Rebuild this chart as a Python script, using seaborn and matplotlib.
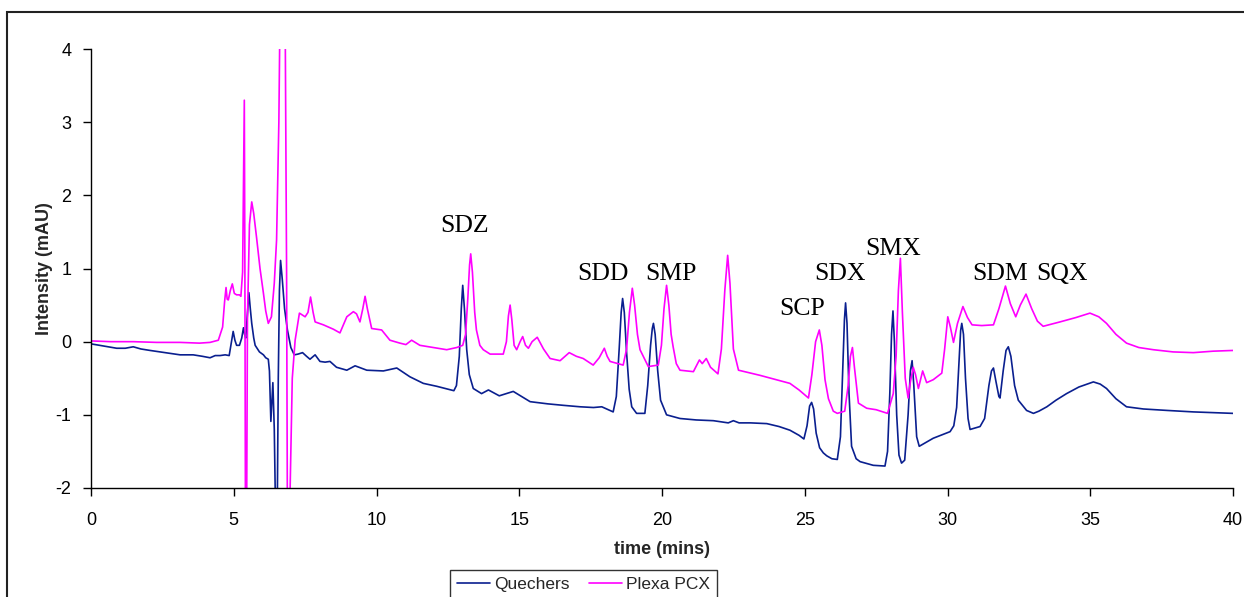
import numpy as np
import pandas as pd
import matplotlib
matplotlib.use("Agg")
import matplotlib.pyplot as plt
from matplotlib.patches import Rectangle
from matplotlib.lines import Line2D
import seaborn as sns

# ---------------- data ----------------
quechers_t = [0.00, 0.45, 0.90, 1.20, 1.48, 1.75, 2.07, 2.60, 3.12, 3.58, 3.90, 4.17, 4.35, 4.52, 4.70,
              4.84, 4.92, 4.98, 5.04, 5.10, 5.20, 5.28, 5.34, 5.38, 5.42, 5.48, 5.53, 5.58, 5.63, 5.70,
              5.75, 5.90, 6.04, 6.12, 6.21, 6.25, 6.30, 6.37, 6.42, 6.47, 6.52, 6.56, 6.60, 6.64, 6.70,
              6.78, 6.88, 7.00, 7.12, 7.25, 7.41, 7.55, 7.67, 7.85, 8.02, 8.20, 8.37, 8.60, 8.96, 9.25,
              9.66, 10.24, 10.71, 11.17, 11.64, 12.11, 12.71, 12.80, 12.90, 12.97, 13.02, 13.08, 13.16,
              13.25, 13.39, 13.68, 13.92, 14.30, 14.79, 15.38, 16.00, 16.54, 17.13, 17.60, 17.89, 18.29,
              18.40, 18.50, 18.57, 18.62, 18.68, 18.76, 18.85, 18.94, 19.11, 19.40, 19.50, 19.60, 19.66,
              19.70, 19.76, 19.85, 19.95, 20.16, 20.63, 21.20, 21.80, 22.32, 22.50, 22.70, 23.10, 23.67,
              24.10, 24.48, 24.80, 24.97, 25.08, 25.17, 25.24, 25.31, 25.40, 25.52, 25.65, 25.77, 25.95,
              26.14, 26.25, 26.33, 26.39, 26.43, 26.48, 26.55, 26.64, 26.80, 26.94, 27.40, 27.81, 27.90,
              27.98, 28.04, 28.09, 28.14, 28.22, 28.30, 28.39, 28.50, 28.62, 28.70, 28.76, 28.82, 28.92,
              29.01, 29.10, 29.50, 30.09, 30.22, 30.32, 30.40, 30.46, 30.50, 30.56, 30.63, 30.72, 30.79,
              31.14, 31.30, 31.45, 31.54, 31.61, 31.70, 31.80, 31.84, 31.95, 32.05, 32.13, 32.22, 32.35,
              32.48, 32.77, 33.01, 33.20, 33.48, 33.80, 34.17, 34.60, 35.11, 35.35, 35.57, 35.90, 36.27,
              36.86, 37.70, 38.61, 39.30, 40.00]
quechers_i = [-0.03, -0.06, -0.09, -0.09, -0.07, -0.10, -0.12, -0.15, -0.18, -0.18, -0.20, -0.22, -0.19, -0.19, -0.18,
              -0.19, 0.00, 0.14, 0.02, -0.05, -0.05, 0.05, 0.19, 0.10, 0.05, 0.40, 0.67, 0.45, 0.25, 0.05,
              -0.05, -0.14, -0.18, -0.22, -0.24, -0.40, -1.09, -0.56, -1.20, -2.50, -2.50, -0.50, 0.70, 1.11, 0.85,
              0.45, 0.16, -0.08, -0.18, -0.17, -0.15, -0.20, -0.24, -0.18, -0.27, -0.28, -0.27, -0.35, -0.39, -0.33,
              -0.39, -0.40, -0.36, -0.48, -0.57, -0.61, -0.67, -0.60, -0.20, 0.45, 0.77, 0.45, -0.11,
              -0.45, -0.64, -0.71, -0.66, -0.74, -0.68, -0.82, -0.85, -0.87, -0.89, -0.90, -0.89, -0.96,
              -0.75, -0.10, 0.40, 0.59, 0.40, -0.15, -0.65, -0.89, -0.98, -0.98, -0.60, -0.05, 0.18,
              0.25, 0.10, -0.40, -0.80, -1.00, -1.05, -1.07, -1.08, -1.11, -1.08, -1.11, -1.11, -1.12,
              -1.16, -1.21, -1.28, -1.33, -1.15, -0.88, -0.83, -0.92, -1.25, -1.45, -1.52, -1.56, -1.60,
              -1.61, -1.30, -0.40, 0.30, 0.53, 0.25, -0.70, -1.43, -1.60, -1.64, -1.69, -1.70, -1.50,
              -0.70, 0.10, 0.42, 0.00, -1.00, -1.55, -1.66, -1.62, -1.00, -0.40, -0.26, -0.60, -1.30,
              -1.43, -1.41, -1.32, -1.23, -1.15, -0.90, -0.30, 0.15, 0.25, 0.10, -0.50, -1.05, -1.20,
              -1.16, -1.05, -0.60, -0.40, -0.36, -0.55, -0.75, -0.77, -0.40, -0.12, -0.07, -0.20, -0.60,
              -0.80, -0.94, -0.98, -0.95, -0.89, -0.80, -0.71, -0.62, -0.55, -0.58, -0.64, -0.78, -0.89,
              -0.92, -0.94, -0.96, -0.97, -0.98]

plexa_t = [0.00, 0.70, 1.48, 2.30, 3.12, 3.80, 4.17, 4.46, 4.61, 4.68, 4.73, 4.77, 4.81, 4.88, 4.95,
           5.02, 5.10, 5.20, 5.25, 5.31, 5.37, 5.39, 5.41, 5.45, 5.48, 5.55, 5.63, 5.70, 5.80, 5.92,
           6.04, 6.12, 6.21, 6.32, 6.42, 6.50, 6.58, 6.62, 6.80, 6.85, 6.88, 6.95, 7.05, 7.15, 7.30,
           7.50, 7.60, 7.69, 7.78, 7.85, 8.14, 8.49, 8.72, 8.96, 9.19, 9.30, 9.42, 9.52, 9.60, 9.68,
           9.83, 10.18, 10.47, 10.82, 11.03, 11.23, 11.52, 11.99, 12.46, 12.81, 13.02, 13.12, 13.20,
           13.26, 13.30, 13.36, 13.44, 13.50, 13.62, 13.74, 13.98, 14.44, 14.55, 14.62, 14.68, 14.74,
           14.82, 14.91, 15.03, 15.12, 15.22, 15.32, 15.45, 15.63, 15.85, 16.08, 16.43, 16.75, 17.00,
           17.24, 17.59, 17.80, 17.98, 18.08, 18.18, 18.64, 18.76, 18.86, 18.96, 19.04, 19.14, 19.23,
           19.52, 19.87, 19.98, 20.07, 20.16, 20.24, 20.32, 20.39, 20.50, 20.63, 21.10, 21.31, 21.41,
           21.55, 21.70, 21.96, 22.08, 22.20, 22.30, 22.38, 22.50, 22.68, 23.43, 24.00, 24.48, 24.80,
           25.13, 25.25, 25.38, 25.51, 25.60, 25.71, 25.83, 26.00, 26.14, 26.40, 26.52, 26.60, 26.67,
           26.74, 26.88, 27.17, 27.50, 27.90, 28.10, 28.20, 28.28, 28.35, 28.42, 28.52, 28.62, 28.70,
           28.80, 28.88, 28.98, 29.13, 29.27, 29.50, 29.80, 29.90, 30.01, 30.10, 30.21, 30.35, 30.54,
           30.70, 30.86, 31.20, 31.61, 31.80, 32.03, 32.20, 32.39, 32.55, 32.75, 32.95, 33.15, 33.35,
           33.94, 34.50, 34.99, 35.30, 35.57, 35.90, 36.27, 36.70, 37.21, 37.90, 38.61, 39.30, 40.00]
plexa_i = [0.01, 0.00, 0.00, -0.01, -0.01, -0.02, -0.01, 0.02, 0.20, 0.55, 0.74, 0.58, 0.57, 0.70, 0.79,
           0.66, 0.64, 0.64, 0.62, 0.95, 3.30, 1.00, -2.50, -2.50, 0.30, 1.60, 1.91, 1.75, 1.42, 1.00,
           0.66, 0.42, 0.25, 0.34, 0.80, 1.39, 3.00, 4.50, 4.50, 1.00, -2.50, -2.50, -0.50, 0.02, 0.39,
           0.34, 0.40, 0.61, 0.40, 0.27, 0.23, 0.17, 0.12, 0.34, 0.41, 0.38, 0.27, 0.45, 0.62, 0.45,
           0.18, 0.16, 0.02, -0.02, -0.04, 0.02, -0.05, -0.08, -0.11, -0.08, -0.05, 0.10, 0.60,
           1.05, 1.20, 0.95, 0.40, 0.16, -0.05, -0.11, -0.17, -0.17, 0.00, 0.35, 0.50, 0.30,
           -0.05, -0.11, 0.00, 0.07, -0.05, -0.09, 0.00, 0.06, -0.10, -0.23, -0.26, -0.15, -0.20,
           -0.23, -0.32, -0.22, -0.09, -0.20, -0.27, -0.32, -0.10, 0.40, 0.73, 0.50, 0.10, -0.11,
           -0.34, -0.32, -0.05, 0.45, 0.77, 0.50, 0.10, -0.07, -0.30, -0.39, -0.41, -0.25, -0.30,
           -0.23, -0.35, -0.44, -0.10, 0.70, 1.18, 0.80, -0.10, -0.39, -0.46, -0.52, -0.57, -0.66,
           -0.77, -0.45, 0.00, 0.16, -0.05, -0.52, -0.78, -0.95, -0.98, -0.95, -0.60, -0.20, -0.08,
           -0.35, -0.84, -0.91, -0.93, -0.98, -0.71, -0.20, 0.70, 1.14, 0.40, -0.50, -0.77, -0.55,
           -0.35, -0.45, -0.64, -0.40, -0.56, -0.52, -0.43, -0.10, 0.34, 0.20, -0.01, 0.25, 0.48,
           0.33, 0.23, 0.22, 0.23, 0.45, 0.76, 0.52, 0.34, 0.50, 0.65, 0.45, 0.28, 0.21,
           0.27, 0.33, 0.39, 0.34, 0.25, 0.10, -0.02, -0.08, -0.11, -0.14, -0.15, -0.13, -0.12]

series_names = ["Quechers", "Plexa PCX"]
peak_labels = ["SDZ", "SDD", "SMP", "SCP", "SDX", "SMX", "SDM", "SQX"]
peak_label_t = [13.08, 17.92, 20.33, 24.91, 26.23, 28.09, 31.84, 34.00]
peak_label_i = [1.50, 0.84, 0.84, 0.365, 0.84, 1.19, 0.84, 0.84]

x_ticks = [0, 5, 10, 15, 20, 25, 30, 35, 40]
y_ticks = [-2, -1, 0, 1, 2, 3, 4]

# ---------------- plotting ----------------
sns.set_theme(style="white")
plt.rcParams["font.family"] = ["Liberation Sans", "DejaVu Sans"]

df = pd.concat([
    pd.DataFrame({"time": quechers_t, "intensity": quechers_i, "series": series_names[0]}),
    pd.DataFrame({"time": plexa_t, "intensity": plexa_i, "series": series_names[1]}),
], ignore_index=True)

palette = {series_names[0]: "#0a1f8f", series_names[1]: "#ff00ff"}

fig = plt.figure(figsize=(12.44, 5.97), dpi=100)
ax = fig.add_axes([91 / 1244, 1 - 488 / 597, (1233 - 91) / 1244, (488 - 49) / 597])

sns.lineplot(data=df, x="time", y="intensity", hue="series", palette=palette,
             estimator=None, sort=False, linewidth=1.2, ax=ax, legend=False)

ax.set_xlim(0, 40)
ax.set_ylim(-2, 4)
ax.set_xticks(x_ticks)
ax.set_yticks(y_ticks)
ax.set_xticklabels([str(v) for v in x_ticks])
ax.set_yticklabels([str(v) for v in y_ticks])

for side in ["top", "right"]:
    ax.spines[side].set_visible(False)
for side in ["left", "bottom"]:
    ax.spines[side].set_color("black")
    ax.spines[side].set_linewidth(1.0)

ax.tick_params(axis="both", direction="out", length=6, width=1, color="black",
               labelsize=13, labelcolor="black")
ax.tick_params(axis="x", bottom=True, pad=11)
ax.tick_params(axis="y", left=True, pad=8)

ax.set_xlabel("time (mins)", fontsize=13, fontweight="bold", labelpad=9)
ax.set_ylabel("Intensity (mAU)", fontsize=13, fontweight="bold")
ax.yaxis.set_label_coords((53 - 91) / (1233 - 91), (488 - 268.5) / (488 - 49))
ax.grid(False)

for lab, t, v in zip(peak_labels, peak_label_t, peak_label_i):
    ax.text(t, v, lab, ha="center", va="baseline", fontsize=18.5,
            family=["Liberation Serif", "DejaVu Serif"], color="black")

# legend
handles = [Line2D([], [], color=palette[n], lw=1.2) for n in series_names]
leg = fig.legend(handles, series_names, loc="upper center",
                 bbox_to_anchor=(583.5 / 1244, 1 - 570 / 597), ncol=2, fontsize=12.5,
                 frameon=True, fancybox=False, edgecolor="black", handlelength=1.9,
                 handletextpad=0.25, columnspacing=1.1, borderpad=0.4, borderaxespad=0)
leg.get_frame().set_linewidth(1.0)

# outer frame (chart area border)
fig.patches.append(Rectangle((7 / 1244, -0.2), 1.2, 1 - 12 / 597 + 0.2, transform=fig.transFigure,
                             fill=False, edgecolor="#222222", linewidth=1.5))

fig.savefig("out.png", dpi=100)
